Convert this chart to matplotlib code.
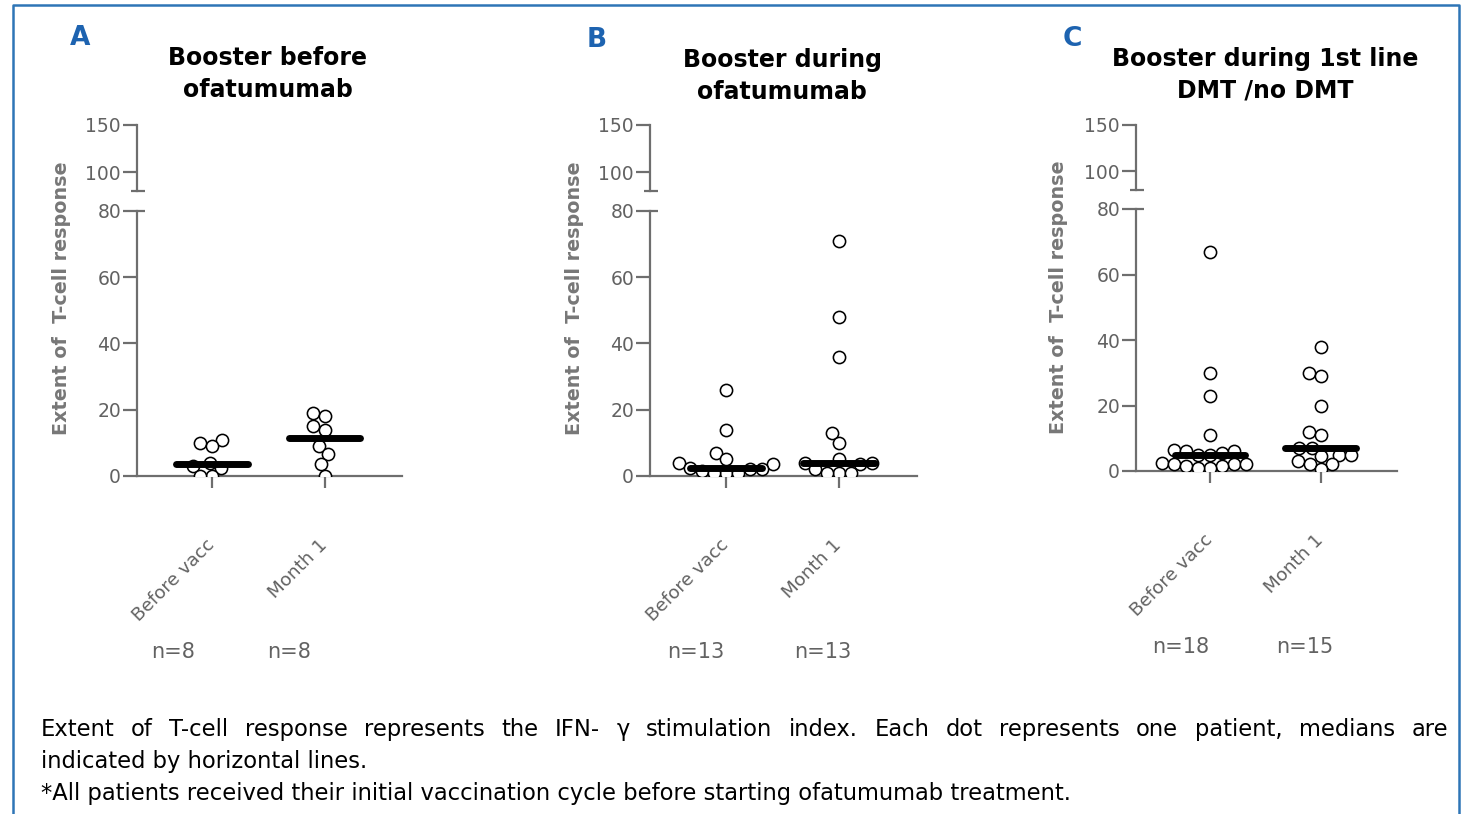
import numpy as np
import matplotlib
matplotlib.use('Agg')
import matplotlib.pyplot as plt
from matplotlib.lines import Line2D

# ---------------- data ----------------
panel_letters = ['A', 'B', 'C']
panel_titles = ['Booster before\nofatumumab',
                'Booster during\nofatumumab',
                'Booster during 1st line\nDMT /no DMT']
categories = ['Before vacc', 'Month 1']
y_label = 'Extent of  T-cell response'
lower_ticks = [0, 20, 40, 60, 80]
upper_ticks = [100, 150]

a_before = [11, 10, 9, 4, 3, 2.5, 0, 0]
a_month1 = [19, 18, 15, 14, 9, 6.5, 3.5, 0]
b_before = [26, 14, 7, 5, 4, 3.5, 2.5, 2, 2, 1.5, 1, 1, 1]
b_month1 = [71, 48, 36, 13, 10, 5, 4, 4, 3.5, 2, 1, 1, 1]
c_before = [67, 30, 23, 11, 6.5, 6, 6, 5.5, 5, 5, 2.5, 2, 2, 2, 1.5, 1.5, 1, 1]
c_month1 = [38, 30, 29, 20, 12, 11, 7, 7, 5, 5, 4.5, 3, 2, 2, 0.5]

footer_line1 = ("Extent of T-cell response represents the IFN- \u03b3 stimulation index. "
                "Each dot represents one patient, medians are")
footer_line2 = "indicated by horizontal lines."
footer_line3 = ("*All patients received their initial vaccination cycle before "
                "starting ofatumumab treatment.")

panel_data = [(a_before, a_month1), (b_before, b_month1), (c_before, c_month1)]

# ---------------- layout (pixels) ----------------
W, H, DPI = 1476, 814, 100
layout = [
    dict(x0=137, x1=402, lo_top=211, lo_bot=476, up_top=125, up_bot=191,
         letter=(80, 38), title=(268, 74), ylab=(62, 298), n_off=(-0.35, -0.32)),
    dict(x0=650, x1=917, lo_top=211, lo_bot=476, up_top=125, up_bot=191,
         letter=(597, 40), title=(782, 76), ylab=(575, 298), n_off=(-0.27, -0.14)),
    dict(x0=1136, x1=1397, lo_top=209, lo_bot=471, up_top=125, up_bot=190,
         letter=(1072, 39), title=(1265, 75), ylab=(1059, 297), n_off=(-0.27, -0.14)),
]
XLIM = (-0.67, 1.69)
GRAY = '#6e6e6e'
TXT_GRAY = '#626262'
BLUE = '#1d63b0'
BORDER = '#2e75b6'

plt.rcParams['font.family'] = ['DejaVu Sans']

fig = plt.figure(figsize=(W / DPI, H / DPI), dpi=DPI)


def rect(x0, x1, ytop, ybot):
    return [x0 / W, 1 - ybot / H, (x1 - x0) / W, (ybot - ytop) / H]


def swarm(vals, diam, ppu):
    ys = np.asarray(vals, dtype=float) * ppu
    order = np.argsort(ys, kind='stable')
    xs = np.zeros(len(ys))
    placed = []
    for i in order:
        y = ys[i]
        cands = [0.0]
        for px, py in placed:
            dy = abs(py - y)
            if dy < diam:
                dx = np.sqrt(diam * diam - dy * dy)
                cands += [px - dx, px + dx]
        cands.sort(key=lambda c: (abs(c), c))
        for c in cands:
            if all((c - px) ** 2 + (y - py) ** 2 >= diam * diam - 1e-6 for px, py in placed):
                xs[i] = c
                placed.append((c, y))
                break
    return xs


for p, L in enumerate(layout):
    before, month1 = panel_data[p]
    # lower axis
    ax = fig.add_axes(rect(L['x0'], L['x1'], L['lo_top'], L['lo_bot']))
    ax.set_xlim(*XLIM)
    ax.set_ylim(0, 80)
    for s in ['top', 'right']:
        ax.spines[s].set_visible(False)
    for s in ['left', 'bottom']:
        ax.spines[s].set_color(GRAY)
        ax.spines[s].set_linewidth(1.6)
    ax.set_yticks(lower_ticks)
    ax.set_xticks([0, 1])
    ax.set_xticklabels(categories, rotation=45, ha='right', va='center',
                       rotation_mode='anchor', fontsize=13.2, color=TXT_GRAY)
    ax.tick_params(axis='y', length=10, width=1.6, color=GRAY, labelsize=13.5,
                   labelcolor=TXT_GRAY, pad=1.5)
    ax.tick_params(axis='x', length=8.5, width=1.6, color=GRAY, pad=39)

    axw = L['x1'] - L['x0']
    axh = L['lo_bot'] - L['lo_top']
    ppc = axw / (XLIM[1] - XLIM[0])
    ppu = axh / 80.0
    for i, vals in enumerate([before, month1]):
        off = swarm(vals, 12.2, ppu) / ppc
        ax.scatter(i + off, vals, s=8.8 ** 2, facecolor='white', edgecolor='black',
                   linewidths=1.15, zorder=3, clip_on=True)
        med = np.median(vals)
        ax.plot([i - 0.32, i + 0.32], [med, med], color='black', lw=5,
                solid_capstyle='round', zorder=4)
        ax.annotate(f'n={len(vals)}', xy=(i + L['n_off'][i], 0),
                    xycoords=('data', 'axes fraction'), xytext=(0, -176),
                    textcoords='offset pixels', ha='center', va='center',
                    fontsize=15, color=TXT_GRAY)
    # break mark on lower axis (right part of the 80 tick)
    ax.plot([0, 8 / axw], [80, 80], transform=ax.get_yaxis_transform(),
            color=GRAY, lw=1.6, clip_on=False, solid_capstyle='butt')

    # upper axis
    ax2 = fig.add_axes(rect(L['x0'], L['x1'], L['up_top'], L['up_bot']))
    ax2.set_xlim(*XLIM)
    ax2.set_ylim(80, 150)
    for s in ['top', 'right', 'bottom']:
        ax2.spines[s].set_visible(False)
    ax2.spines['left'].set_color(GRAY)
    ax2.spines['left'].set_linewidth(1.6)
    ax2.set_yticks(upper_ticks)
    ax2.set_xticks([])
    ax2.tick_params(axis='y', length=10, width=1.6, color=GRAY, labelsize=13.5,
                    labelcolor=TXT_GRAY, pad=1.5)
    ax2.plot([-6 / axw, 8 / axw], [80, 80], transform=ax2.get_yaxis_transform(),
             color=GRAY, lw=1.6, clip_on=False, solid_capstyle='butt')
    ax2.patch.set_visible(False)

    # texts
    fig.text(L['letter'][0] / W, 1 - L['letter'][1] / H, panel_letters[p],
             ha='center', va='center', fontsize=19, fontweight='bold', color=BLUE)
    fig.text(L['title'][0] / W, 1 - L['title'][1] / H, panel_titles[p],
             ha='center', va='center', fontsize=17, fontweight='bold',
             color='black', linespacing=1.42)
    fig.text(L['ylab'][0] / W, 1 - L['ylab'][1] / H, y_label, rotation=90,
             ha='center', va='center', fontsize=13.8, fontweight='bold',
             color='#777777')

# footer text
FOOT_SIZE = 16.3
fig.canvas.draw()
renderer = fig.canvas.get_renderer()
words = footer_line1.split(' ')
tobjs = [fig.text(0, 1 - 736 / H, w, fontsize=FOOT_SIZE, va='baseline', ha='left',
                  color='black') for w in words]
widths = [t.get_window_extent(renderer).width for t in tobjs]
x_left, x_right = 41, 1448
gap = (x_right - x_left - sum(widths)) / (len(words) - 1)
x = x_left
for t, w in zip(tobjs, widths):
    t.set_x(x / W)
    x += w + gap
fig.text(41 / W, 1 - 768 / H, footer_line2, fontsize=FOOT_SIZE, va='baseline',
         ha='left', color='black')
fig.text(41 / W, 1 - 800 / H, footer_line3, fontsize=FOOT_SIZE, va='baseline',
         ha='left', color='black')

# border (left, top, right)
fig.add_artist(Line2D([13 / W, 13 / W, 1459 / W, 1459 / W], [0, 1 - 5 / H, 1 - 5 / H, 0],
                      transform=fig.transFigure, color=BORDER, lw=1.8))

fig.savefig('out.png', dpi=DPI)
